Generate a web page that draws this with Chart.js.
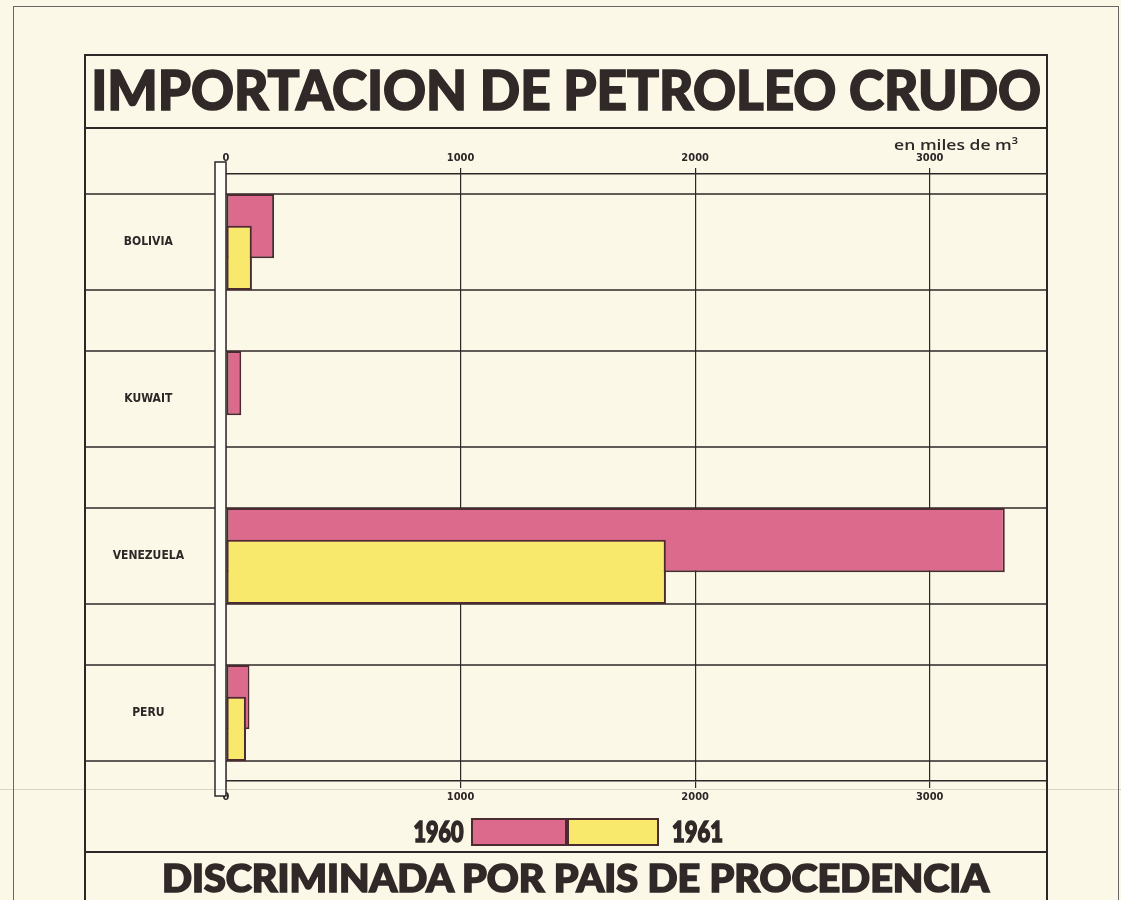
<!DOCTYPE html>
<html><head><meta charset="utf-8">
<script src="https://cdn.jsdelivr.net/npm/chart.js@4"></script>
<style>
html,body{margin:0;padding:0;background:#fbf8e8;}
#page{position:relative;width:1121px;height:900px;overflow:hidden;background:#fbf8e8;}
#chart{position:absolute;left:0;top:0;}
.ln{position:absolute;background:#2f2727;}
.txt{position:absolute;white-space:nowrap;color:#312828;transform-origin:center center;line-height:1;}
.heavy{-webkit-text-stroke:1.6px #312828;}
</style></head><body>
<div id="page">
<canvas id="chart" width="1121" height="900"></canvas>
<div class="ln" style="left:13px;top:6px;width:1106px;height:1px;background:#666"></div>
<div class="ln" style="left:13px;top:6px;width:1px;height:894px;background:#666"></div>
<div class="ln" style="left:1118px;top:6px;width:1px;height:894px;background:#666"></div>
<div class="ln" style="left:84px;top:54px;width:964px;height:2px"></div>
<div class="ln" style="left:84px;top:54px;width:2px;height:846px"></div>
<div class="ln" style="left:1046px;top:54px;width:2px;height:846px"></div>
<div class="ln" style="left:84px;top:127px;width:964px;height:2px"></div>
<div class="ln" style="left:84px;top:851px;width:964px;height:2px"></div>
<div class="ln" style="left:0px;top:789px;width:1121px;height:1px;background:rgba(90,80,70,0.22)"></div>
</div>
<script>
// ---- data ----
const categories = ['BOLIVIA', 'KUWAIT', 'VENEZUELA', 'PERU'];
const seriesNames = ['1960', '1961'];
const imports1960 = [205, 65, 3320, 100];
const imports1961 = [110, null, 1875, 85];
const xTickValues = [0, 1000, 2000, 3000];
const xMax = 3500;
const titleText = 'IMPORTACION DE PETROLEO CRUDO';
const subtitleText = 'DISCRIMINADA POR PAIS DE PROCEDENCIA';
const unitText = 'en miles de m³';

// ---- style ----
const ink = '#2f2727';
const pink = '#dc6a8c';
const yellow = '#f8e86c';
const barBorder = '#4a2c30';

const page = document.getElementById('page');
function place(text, cx, cy, fs, family, weight, targetW, cls) {
  const el = document.createElement('div');
  el.className = 'txt' + (cls ? ' ' + cls : '');
  el.textContent = text;
  el.style.font = weight + ' ' + fs + 'px ' + family;
  el.style.lineHeight = '1';
  page.appendChild(el);
  const w = el.getBoundingClientRect().width;
  el.style.left = (cx - w / 2) + 'px';
  el.style.top = (cy - 0.53 * fs) + 'px';
  if (targetW) el.style.transform = 'scaleX(' + (targetW / w) + ')';
  return el;
}
place(titleText, 566, 91, 56, 'Lato, sans-serif', 900, 950, 'heavy');
place(subtitleText, 576, 879, 37, 'Lato, sans-serif', 900, 827, 'heavy');
place(unitText, 956, 145, 15, '"Open Sans", sans-serif', 600, 124);
place(seriesNames[0], 438, 832, 28, 'Lato, sans-serif', 900, 50, 'heavy');
place(seriesNames[1], 697, 832, 28, 'Lato, sans-serif', 900, 51, 'heavy');
[[471, 96, pink], [567, 92, yellow]].forEach(function (b) {
  const d = document.createElement('div');
  d.style.cssText = 'position:absolute;box-sizing:border-box;top:818px;height:28px;border:2px solid ' + barBorder + ';left:' + b[0] + 'px;width:' + b[1] + 'px;background:' + b[2];
  page.appendChild(d);
});

const rowsPlugin = {
  id: 'rows',
  beforeDatasetsDraw(chart) {
    const ctx = chart.ctx, ca = chart.chartArea;
    const m0 = chart.getDatasetMeta(0), m1 = chart.getDatasetMeta(1);
    ctx.save();
    ctx.strokeStyle = ink;
    ctx.lineWidth = 1.5;
    categories.forEach(function (c, i) {
      const a = m0.data[i], b = m1.data[i];
      const ys = [a.y - a.height / 2, b.y + b.height / 2];
      ys.forEach(function (yy) {
        ctx.beginPath();
        ctx.moveTo(chart.scales.y.left, yy);
        ctx.lineTo(ca.right, yy);
        ctx.stroke();
      });
    });
    ctx.restore();
  },
  afterDatasetsDraw(chart) {
    // 1961 bars sit over the 1960 bars
    chart.getDatasetMeta(1).controller.draw();
    const ctx = chart.ctx, ca = chart.chartArea;
    ctx.save();
    ctx.fillStyle = '#fffef6';
    ctx.strokeStyle = ink;
    ctx.lineWidth = 1.5;
    ctx.beginPath();
    ctx.rect(ca.left - 11, ca.top - 12, 11, ca.bottom - ca.top + 27);
    ctx.fill();
    ctx.stroke();
    ctx.restore();
  }
};

Chart.defaults.font.family = '"DejaVu Sans Condensed", sans-serif';
Chart.defaults.color = ink;

const xCommon = {
  type: 'linear', min: 0, max: xMax,
  afterBuildTicks: function (s) { s.ticks = xTickValues.map(function (v) { return { value: v }; }); },
  ticks: { callback: function (v) { return String(v); },
    font: { family: '"DejaVu Sans Condensed", sans-serif', size: 11, weight: 'bold' }, color: ink, padding: 3 },
  border: { display: true, color: ink, width: 1.5 }
};

new Chart(document.getElementById('chart'), {
  type: 'bar',
  data: {
    datasets: [
      { label: seriesNames[0], data: categories.map(function (c, i) { return { x: imports1960[i], y: i }; }),
        backgroundColor: pink, borderColor: barBorder, borderWidth: 2, borderSkipped: false },
      { label: seriesNames[1], data: categories.map(function (c, i) { return { x: imports1961[i], y: i }; }),
        backgroundColor: yellow, borderColor: barBorder, borderWidth: 2, borderSkipped: false }
    ]
  },
  options: {
    indexAxis: 'y',
    responsive: false,
    animation: false,
    devicePixelRatio: 1,
    categoryPercentage: 0.404,
    barPercentage: 2.02,
    layout: { padding: { left: 84, right: 74, top: 144, bottom: 89 } },
    plugins: { legend: { display: false }, tooltip: { enabled: false }, title: { display: false } },
    scales: {
      x: Object.assign({}, xCommon, {
        position: 'bottom',
        afterFit: function (s) { s.height = 30; },
        grid: { color: ink, lineWidth: 1.2, drawOnChartArea: true, drawTicks: true, tickLength: 7 }
      }),
      xTop: Object.assign({}, xCommon, {
        position: 'top',
        afterFit: function (s) { s.height = 30; },
        grid: { color: ink, lineWidth: 1.2, drawOnChartArea: false, drawTicks: true, tickLength: 6 }
      }),
      y: {
        type: 'linear', reverse: true, offset: false, grace: 0, min: -0.433, max: 3.433,
        afterBuildTicks: function (s) { s.ticks = categories.map(function (c, i) { return { value: i }; }); },
        afterFit: function (s) { s.width = 142; },
        ticks: {
          callback: function (v) { return categories[v]; },
          crossAlign: 'center', padding: 42,
          font: { size: 12, weight: 'bold' }, color: ink
        },
        grid: { display: false, drawTicks: false, offset: false },
        border: { display: false }
      }
    }
  },
  plugins: [rowsPlugin]
});
</script>
</body></html>
